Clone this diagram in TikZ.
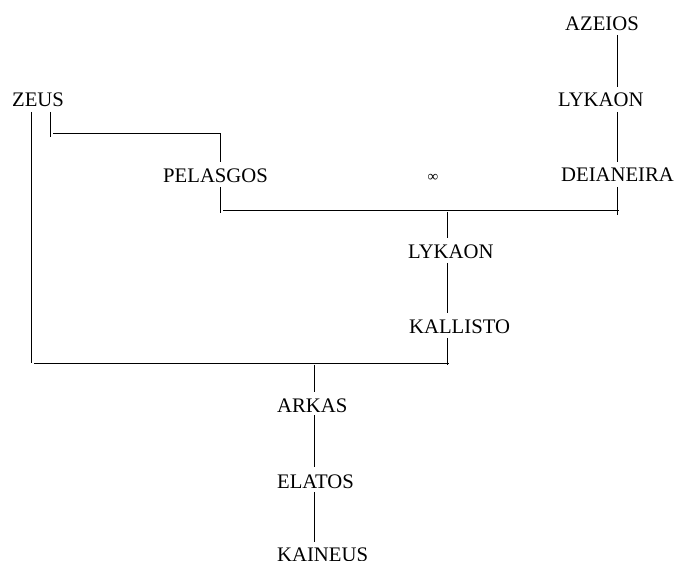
\documentclass[tikz,border=0pt]{standalone}
\usepackage{fontspec}
\setmainfont{Liberation Serif}
\newcommand\lbfont{\fontsize{20.7}{24}\selectfont}
\begin{document}
\begin{tikzpicture}[x=1pt,y=-1pt,
  lbl/.style={anchor=base west, inner sep=0pt, font=\lbfont},
  link/.style={line width=0.9pt, line cap=butt}]
\fill[white] (0,0) rectangle (675,561);
\useasboundingbox (0,0) rectangle (675,561);
% names
\node[lbl] (zeus) at (12,107) {ZEUS};
\node[lbl] (pelasgos) at (163,183) {PELASGOS};
\node[lbl] (azeios) at (565,31) {AZEIOS};
\node[lbl] (lykaonA) at (558,107) {LYKAON};
\node[lbl] (deianeira) at (561,182) {DEIANEIRA};
\node[inner sep=0pt, font=\fontsize{15}{15}\selectfont] (inf) at (433,178) {∞};
\node[lbl] (lykaonB) at (408,259) {LYKAON};
\node[lbl] (kallisto) at (409,334) {KALLISTO};
\node[lbl] (arkas) at (277,412) {ARKAS};
\node[lbl] (elatos) at (277,488) {ELATOS};
\node[lbl] (kaineus) at (277,561.5) {KAINEUS};
% junction coordinates
\coordinate (z1a) at (31,112);  \coordinate (z1b) at (31,363);
\coordinate (z2a) at (50,112);  \coordinate (z2b) at (50,137);
\coordinate (h1a) at (53,133);  \coordinate (h1b) at (220,133);
\coordinate (p1b) at (220,162);
\coordinate (p2a) at (220,187); \coordinate (p2b) at (220,213);
\coordinate (h2a) at (223,210); \coordinate (h2b) at (619,210);
\coordinate (d1a) at (617,187); \coordinate (d1b) at (617,215);
\coordinate (m1a) at (447,212); \coordinate (m1b) at (447,238);
\coordinate (m2a) at (447,263); \coordinate (m2b) at (447,313);
\coordinate (m3a) at (447,338); \coordinate (m3b) at (447,365);
\coordinate (h3a) at (34,363);  \coordinate (h3b) at (449,363);
\coordinate (a0a) at (314,365); \coordinate (a0b) at (314,392);
\coordinate (a1a) at (314,415); \coordinate (a1b) at (314,467);
\coordinate (a2a) at (314,492); \coordinate (a2b) at (314,542);
\coordinate (t1a) at (617,35);  \coordinate (t1b) at (617,87);
\coordinate (t2a) at (617,112); \coordinate (t2b) at (617,162);
% connectors
\draw[link] (z1a) -- (z1b);
\draw[link] (z2a) -- (z2b);
\draw[link] (h1a) -- (h1b) -- (p1b);
\draw[link] (p2a) -- (p2b);
\draw[link] (h2a) -- (h2b);
\draw[link] (d1a) -- (d1b);
\draw[link] (m1a) -- (m1b);
\draw[link] (m2a) -- (m2b);
\draw[link] (m3a) -- (m3b);
\draw[link] (h3a) -- (h3b);
\draw[link] (a0a) -- (a0b);
\draw[link] (a1a) -- (a1b);
\draw[link] (a2a) -- (a2b);
\draw[link] (t1a) -- (t1b);
\draw[link] (t2a) -- (t2b);
\end{tikzpicture}
\end{document}
